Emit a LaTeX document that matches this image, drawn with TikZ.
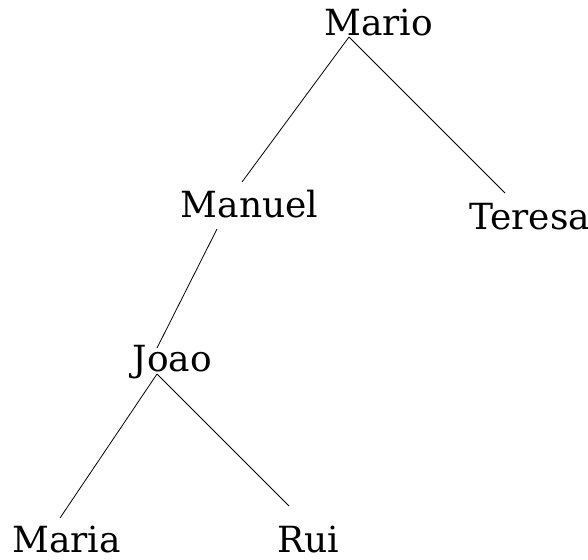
\documentclass[tikz,border=0pt]{standalone}
\usepackage{fontspec}
\setmainfont{DejaVu Serif}
\begin{document}
\begin{tikzpicture}[x=1pt,y=-1pt,
  lbl/.style={inner sep=0pt,anchor=base,font=\fontsize{36}{42}\selectfont},
  edge/.style={line width=0.8pt}]
\useasboundingbox (0,0) rectangle (588,559);
\node[lbl] (mario) at (378.5,36) {Mario};
\node[lbl] (manuel) at (249.5,217) {Manuel};
\node[lbl] (teresa) at (529.5,229) {Teresa};
\node[lbl] (joao) at (172.5,371) {Joao};
\node[lbl] (maria) at (66.5,552) {Maria};
\node[lbl] (rui) at (308,552) {Rui};
\coordinate (mario-b) at (349,37);
\coordinate (manuel-t) at (242,182);
\coordinate (teresa-t) at (505,193);
\coordinate (manuel-b) at (217,229);
\coordinate (joao-t) at (157,348);
\coordinate (joao-b) at (157,374);
\coordinate (maria-t) at (60,518);
\coordinate (rui-t) at (289,506);
\draw[edge] (mario-b) -- (manuel-t);
\draw[edge] (mario-b) -- (teresa-t);
\draw[edge] (manuel-b) -- (joao-t);
\draw[edge] (joao-b) -- (maria-t);
\draw[edge] (joao-b) -- (rui-t);
\end{tikzpicture}
\end{document}
